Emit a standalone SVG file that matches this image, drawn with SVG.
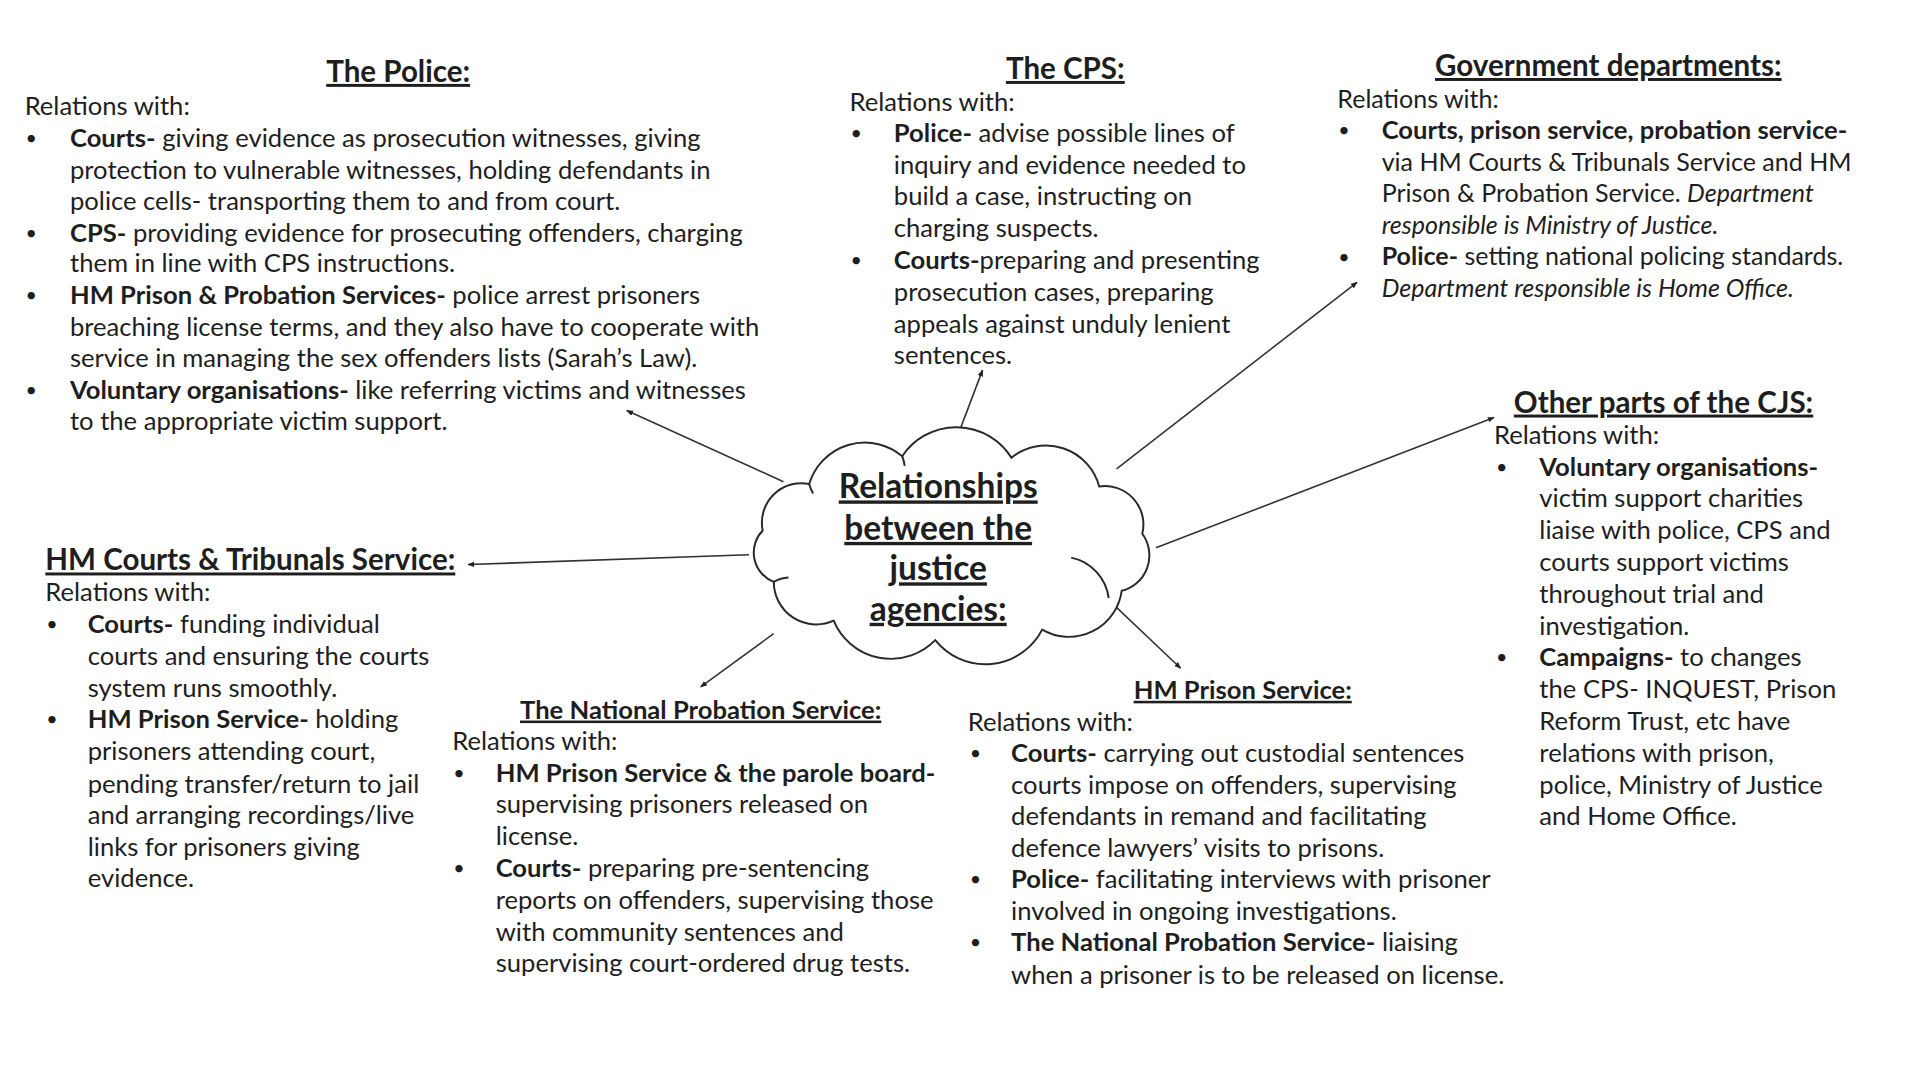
<svg xmlns="http://www.w3.org/2000/svg" width="1920" height="1080" viewBox="0 0 1920 1080">
<defs>
<style>
text{font-family:Lato,"Liberation Sans",sans-serif;fill:#1e1e1e}
.t{font-size:26px}
.g{font-size:25.4px}
.bu{font-size:20px}
.b{font-weight:700}
.i{font-style:italic}
.h{font-size:30px;font-weight:700;text-decoration:underline}
.h2{font-size:26px;font-weight:700;text-decoration:underline}
.c{font-size:34px;font-weight:700;text-decoration:underline}
.ln{fill:none;stroke:#333;stroke-width:1.6}
.cl{fill:none;stroke:#2a2a2a;stroke-width:2}
</style>
<marker id="ah" viewBox="0 0 10 10" refX="9" refY="5" markerWidth="7" markerHeight="7" orient="auto" markerUnits="userSpaceOnUse">
<path d="M0,1 L10,5 L0,9 Z" fill="#222"/>
</marker>
</defs>
<rect width="1920" height="1080" fill="#ffffff"/>
<g id="diagram" transform="matrix(0.9855 0 0 0.987 0 0)">

<g id="connectors">
<line class="ln" x1="795" y1="488" x2="636" y2="416" marker-end="url(#ah)"/>
<line class="ln" x1="967" y1="454" x2="997" y2="375" marker-end="url(#ah)"/>
<line class="ln" x1="1133" y1="475" x2="1377" y2="286" marker-end="url(#ah)"/>
<line class="ln" x1="1173" y1="555" x2="1516" y2="423" marker-end="url(#ah)"/>
<line class="ln" x1="760" y1="562" x2="475" y2="572" marker-end="url(#ah)"/>
<line class="ln" x1="785" y1="642" x2="711" y2="696" marker-end="url(#ah)"/>
<line class="ln" x1="1123" y1="606" x2="1198" y2="677" marker-end="url(#ah)"/>
</g>

<g id="cloud">
<path class="cl" style="fill:#fff" d="M773.9,537.5 A40,40 0 0 1 821.1,490.4 A59,59 0 0 1 915.5,462.2 A66,66 0 0 1 1026.3,463.7 A56,56 0 0 1 1115.4,492.9 A39,39 0 0 1 1159.1,540.8 A37,37 0 0 1 1138.2,598.6 A54,54 0 0 1 1057.5,637.9 A65,65 0 0 1 949,648.6 A63,63 0 0 1 845.9,628.9 A43,43 0 0 1 785.2,589.6 A32,32 0 0 1 773.9,537.5 Z"/>
<path class="cl" d="M1087,565 A48,48 0 0 1 1125,606"/>
<path class="cl" d="M821.1,490.4 A40,40 0 0 0 825,500"/>
<path class="cl" d="M915.5,462.2 A50,50 0 0 1 918,472"/>
<path class="cl" d="M785.2,589.6 A30,30 0 0 1 800,585"/>
<text class="c" x="952" y="505" text-anchor="middle">Relationships</text>
<text class="c" x="952" y="547" text-anchor="middle">between the</text>
<text class="c" x="952" y="588" text-anchor="middle">justice</text>
<text class="c" x="952" y="629" text-anchor="middle">agencies:</text>
</g>

<g id="police">
<text class="h" x="404" y="83" text-anchor="middle">The Police:</text>
<text class="t" x="25" y="117">Relations with:</text>
<text class="bu" x="26" y="147">•</text>
<text class="t" x="71" y="149"><tspan class="b">Courts-</tspan> giving evidence as prosecution witnesses, giving</text>
<text class="t" x="71" y="181">protection to vulnerable witnesses, holding defendants in</text>
<text class="t" x="71" y="213">police cells- transporting them to and from court.</text>
<text class="bu" x="26" y="243">•</text>
<text class="t" x="71" y="245"><tspan class="b">CPS-</tspan> providing evidence for prosecuting offenders, charging</text>
<text class="t" x="71" y="276">them in line with CPS instructions.</text>
<text class="bu" x="26" y="306">•</text>
<text class="t" x="71" y="308"><tspan class="b">HM Prison &amp; Probation Services-</tspan> police arrest prisoners</text>
<text class="t" x="71" y="340">breaching license terms, and they also have to cooperate with</text>
<text class="t" x="71" y="372">service in managing the sex offenders lists (Sarah’s Law).</text>
<text class="bu" x="26" y="402">•</text>
<text class="t" x="71" y="404"><tspan class="b">Voluntary organisations-</tspan> like referring victims and witnesses</text>
<text class="t" x="71" y="436">to the appropriate victim support.</text>
</g>

<g id="cps">
<text class="h" x="1081" y="80" text-anchor="middle">The CPS:</text>
<text class="t" x="862" y="112">Relations with:</text>
<text class="bu" x="863" y="142">•</text>
<text class="t" x="907" y="144"><tspan class="b">Police-</tspan> advise possible lines of</text>
<text class="t" x="907" y="176">inquiry and evidence needed to</text>
<text class="t" x="907" y="208">build a case, instructing on</text>
<text class="t" x="907" y="240">charging suspects.</text>
<text class="bu" x="863" y="271">•</text>
<text class="t" x="907" y="273"><tspan class="b">Courts-</tspan>preparing and presenting</text>
<text class="t" x="907" y="305">prosecution cases, preparing</text>
<text class="t" x="907" y="337">appeals against unduly lenient</text>
<text class="t" x="907" y="369">sentences.</text>
</g>

<g id="government">
<text class="h" x="1632" y="77" text-anchor="middle">Government departments:</text>
<text class="g" x="1357" y="109">Relations with:</text>
<text class="bu" x="1358" y="139">•</text>
<text class="t b" x="1402" y="141">Courts, prison service, probation service-</text>
<text class="g" x="1402" y="173">via HM Courts &amp; Tribunals Service and HM</text>
<text class="g" x="1402" y="205">Prison &amp; Probation Service. <tspan class="i">Department</tspan></text>
<text class="g i" x="1402" y="237">responsible is Ministry of Justice.</text>
<text class="bu" x="1358" y="267">•</text>
<text class="g" x="1402" y="269"><tspan class="b">Police-</tspan> setting national policing standards.</text>
<text class="g i" x="1402" y="301">Department responsible is Home Office.</text>
</g>

<g id="other-cjs">
<text class="h" x="1688" y="418" text-anchor="middle">Other parts of the CJS:</text>
<text class="t" x="1516" y="450">Relations with:</text>
<text class="bu" x="1518" y="480">•</text>
<text class="t b" x="1562" y="482">Voluntary organisations-</text>
<text class="t" x="1562" y="514">victim support charities</text>
<text class="t" x="1562" y="546">liaise with police, CPS and</text>
<text class="t" x="1562" y="579">courts support victims</text>
<text class="t" x="1562" y="611">throughout trial and</text>
<text class="t" x="1562" y="643">investigation.</text>
<text class="bu" x="1518" y="673">•</text>
<text class="t" x="1562" y="675"><tspan class="b">Campaigns-</tspan> to changes</text>
<text class="t" x="1562" y="707">the CPS- INQUEST, Prison</text>
<text class="t" x="1562" y="740">Reform Trust, etc have</text>
<text class="t" x="1562" y="772">relations with prison,</text>
<text class="t" x="1562" y="804">police, Ministry of Justice</text>
<text class="t" x="1562" y="836">and Home Office.</text>
</g>

<g id="hm-courts">
<text class="h" x="46" y="578">HM Courts &amp; Tribunals Service:</text>
<text class="t" x="46" y="609">Relations with:</text>
<text class="bu" x="47" y="639">•</text>
<text class="t" x="89" y="641"><tspan class="b">Courts-</tspan> funding individual</text>
<text class="t" x="89" y="674">courts and ensuring the courts</text>
<text class="t" x="89" y="706">system runs smoothly.</text>
<text class="bu" x="47" y="736">•</text>
<text class="t" x="89" y="738"><tspan class="b">HM Prison Service-</tspan> holding</text>
<text class="t" x="89" y="770">prisoners attending court,</text>
<text class="t" x="89" y="803">pending transfer/return to jail</text>
<text class="t" x="89" y="835">and arranging recordings/live</text>
<text class="t" x="89" y="867">links for prisoners giving</text>
<text class="t" x="89" y="899">evidence.</text>
</g>

<g id="probation">
<text class="h2" x="711" y="728" text-anchor="middle">The National Probation Service:</text>
<text class="t" x="459" y="760">Relations with:</text>
<text class="bu" x="460" y="790">•</text>
<text class="t b" x="503" y="792">HM Prison Service &amp; the parole board-</text>
<text class="t" x="503" y="824">supervising prisoners released on</text>
<text class="t" x="503" y="856">license.</text>
<text class="bu" x="460" y="887">•</text>
<text class="t" x="503" y="889"><tspan class="b">Courts-</tspan> preparing pre-sentencing</text>
<text class="t" x="503" y="921">reports on offenders, supervising those</text>
<text class="t" x="503" y="953">with community sentences and</text>
<text class="t" x="503" y="985">supervising court-ordered drug tests.</text>
</g>

<g id="prison">
<text class="h2" x="1261" y="708" text-anchor="middle">HM Prison Service:</text>
<text class="t" x="982" y="741">Relations with:</text>
<text class="bu" x="984" y="770">•</text>
<text class="t" x="1026" y="772"><tspan class="b">Courts-</tspan> carrying out custodial sentences</text>
<text class="t" x="1026" y="804">courts impose on offenders, supervising</text>
<text class="t" x="1026" y="836">defendants in remand and facilitating</text>
<text class="t" x="1026" y="868">defence lawyers’ visits to prisons.</text>
<text class="bu" x="984" y="898">•</text>
<text class="t" x="1026" y="900"><tspan class="b">Police-</tspan> facilitating interviews with prisoner</text>
<text class="t" x="1026" y="932">involved in ongoing investigations.</text>
<text class="bu" x="984" y="962">•</text>
<text class="t" x="1026" y="964"><tspan class="b">The National Probation Service-</tspan> liaising</text>
<text class="t" x="1026" y="997">when a prisoner is to be released on license.</text>
</g>
</g>
</svg>
